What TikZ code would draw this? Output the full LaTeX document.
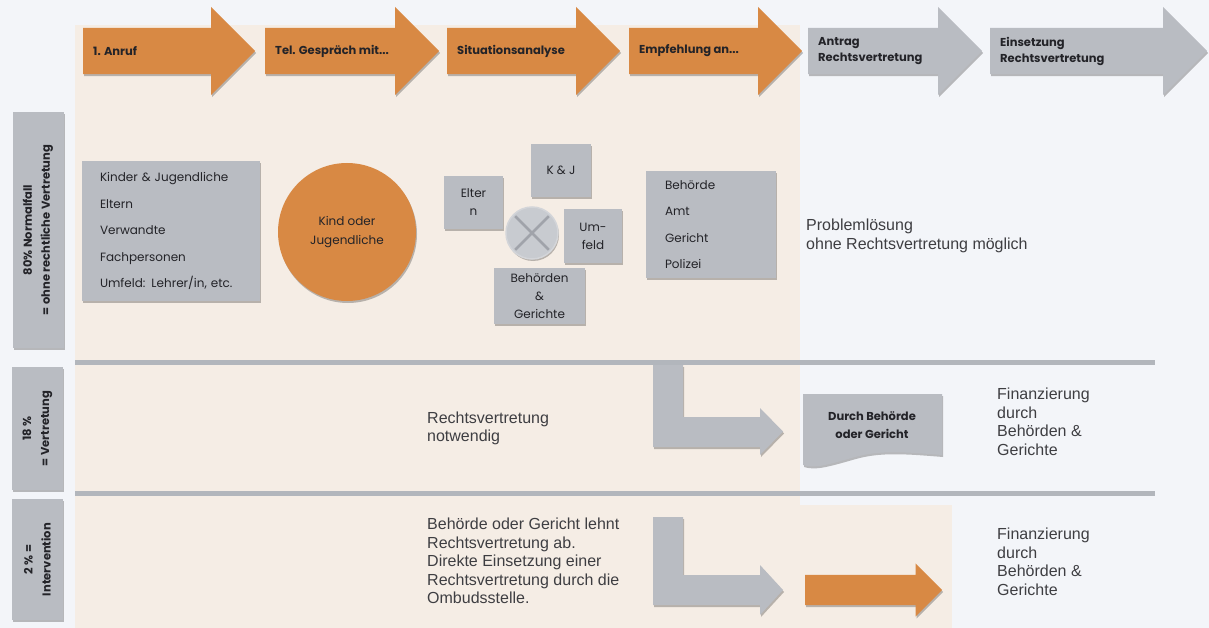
\documentclass[tikz,border=0pt]{standalone}
\usepackage{fontspec}
\setmainfont{Liberation Sans}
\newfontfamily\geofont{Poppins}
\usepackage{tikz}
\usetikzlibrary{shapes.arrows,shadows}
\definecolor{pagebg}{RGB}{243,245,249}
\definecolor{lanebg}{RGB}{245,237,229}
\definecolor{phaseor}{RGB}{216,137,68}
\definecolor{phasegr}{RGB}{185,188,194}
\definecolor{rulegr}{RGB}{178,182,188}
\definecolor{inkdark}{RGB}{35,35,40}
\definecolor{inkgray}{RGB}{62,62,66}
\definecolor{hubfill}{RGB}{200,203,208}
\definecolor{hubline}{RGB}{160,163,170}

\begin{document}
\begin{tikzpicture}[x=1pt, y=-1pt,
  softshadow/.style={drop shadow={shadow xshift=1pt, shadow yshift=-2pt, opacity=0.25, fill=black}},
  phase/.style={single arrow, single arrow head extend=21pt, inner xsep=0pt, inner ysep=23pt, anchor=tail, softshadow},
  phaselbl/.style={anchor=west, align=left, inner sep=0pt, text=inkdark, font=\geofont\bfseries\fontsize{11.5}{16}\selectfont},
  lanebox/.style={fill=phasegr, rotate=90, minimum height=51pt, align=center, inner sep=2pt, text=inkdark, softshadow, font=\geofont\bfseries\fontsize{11.5}{18}\selectfont},
  listbox/.style={fill=phasegr, align=left, softshadow, text=inkdark, font=\geofont\fontsize{12}{26.5}\selectfont},
  smallbox/.style={fill=phasegr, align=center, softshadow, text=inkdark, font=\geofont\fontsize{12}{18}\selectfont},
  note/.style={anchor=west, align=left, inner sep=0pt, text=inkgray, font=\fontsize{16}{18.5}\selectfont},
  divider/.style={draw=rulegr, line width=5pt}]
  % page, lanes and rules
  \fill[pagebg] (0,0) rectangle (1209,628);
  \useasboundingbox (0,0) rectangle (1209,628);
  \fill[lanebg] (75,25) rectangle (800,628);
  \fill[lanebg] (800,505) rectangle (952,628);
  \draw[divider] (75,362) -- (1155,362);
  \draw[divider] (75,493) -- (1155,493);

  % process steps
  \node[phase, fill=phaseor, minimum height=172pt] (anruf) at (83,51) {};
  \node[phase, fill=phaseor, minimum height=174pt] (gespraech) at (265,51) {};
  \node[phase, fill=phaseor, minimum height=173pt] (analyse) at (447,51) {};
  \node[phase, fill=phaseor, minimum height=173pt] (empf) at (629,51) {};
  \node[phase, fill=phasegr, minimum height=174pt] (antrag) at (808,51) {};
  \node[phase, fill=phasegr, minimum height=217pt] (einsetz) at (990,51) {};
  \node[phaselbl] at ([xshift=10pt]anruf.tail) {1. Anruf};
  \node[phaselbl] at ([xshift=10pt]gespraech.tail) {Tel. Gespräch mit...};
  \node[phaselbl] at ([xshift=10pt]analyse.tail) {Situationsanalyse};
  \node[phaselbl] at ([xshift=10pt]empf.tail) {Empfehlung an...};
  \node[phaselbl] at ([xshift=10pt]antrag.tail) {Antrag\\Rechtsvertretung};
  \node[phaselbl] at ([xshift=10pt]einsetz.tail) {Einsetzung\\Rechtsvertretung};

  % lane headers
  \node[lanebox, minimum width=236pt] (normal) at (38,230) {80\% Normalfall\\= ohne rechtliche Vertretung};
  \node[lanebox, minimum width=123pt] (vertr) at (37.5,428.5) {18 \%\\= Vertretung};
  \node[lanebox, minimum width=121pt] (interv) at (37.5,559.5) {2 \% =\\Intervention};

  % lane 1: who calls, who is talked to
  \node[listbox, minimum width=178pt, minimum height=140pt, text width=142pt] (anrufer) at (171,231)
    {Kinder \& Jugendliche\\Eltern\\Verwandte\\Fachpersonen\\Umfeld: Lehrer/in, etc.};
  \node[circle, fill=phaseor, minimum size=138pt, align=center, softshadow, text=inkdark,
    font=\geofont\fontsize{12}{19}\selectfont] (kind) at (347,232) {Kind oder\\Jugendliche};
  \node[circle, fill=hubfill, draw=hubfill!80!white, line width=1.5pt, minimum size=52pt, softshadow] (hub) at (532,233) {};
  \draw[hubline, line width=2.5pt, shorten >=3pt, shorten <=3pt] (hub.north west) -- (hub.south east);
  \draw[hubline, line width=2.5pt, shorten >=3pt, shorten <=3pt] (hub.north east) -- (hub.south west);
  \node[smallbox, minimum width=60pt, minimum height=53pt] (kj) at (561,170.5) {K \& J};
  \node[smallbox, minimum width=59pt, minimum height=53pt] (eltern) at (473.5,202.5) {Elter\\n};
  \node[smallbox, minimum width=58pt, minimum height=54pt] (umfeld) at (593,236) {Um-\\feld};
  \node[smallbox, minimum width=91pt, minimum height=56pt] (gerichte) at (539.5,296) {Behörden\\\&\\Gerichte};
  \node[listbox, minimum width=130pt, minimum height=107pt, text width=92pt] (stellen) at (711,224.5)
    {Behörde\\Amt\\Gericht\\Polizei};
  \node[note] (loesung) at (806,236) {Problemlösung\\ohne Rechtsvertretung möglich};

  % lane 2
  \node[note] (noetig) at (427,428.5) {Rechtsvertretung\\notwendig};
  \path[fill=phasegr, softshadow] (653,365) -- (683,365) -- (683,417) -- (760,417) -- (760,408)
    -- (783,431.5) -- (760,455) -- (760,447) -- (653,447) -- cycle;
  \path[fill=phasegr, softshadow] (803,394) -- (942,394) -- (942,455)
    .. controls (905,452) and (880,450) .. (855,457) .. controls (830,464) and (815,469) .. (803,465) -- cycle;
  \node[text=inkdark, align=center, font=\geofont\bfseries\fontsize{11.5}{18}\selectfont] (durch) at (872,425) {Durch Behörde\\oder Gericht};
  \node[note] (finanz) at (997,422) {Finanzierung\\durch\\Behörden \&\\Gerichte};

  % lane 3
  \node[note] (direkt) at (427,561) {Behörde oder Gericht lehnt\\Rechtsvertretung ab.\\Direkte Einsetzung einer\\Rechtsvertretung durch die\\Ombudsstelle.};
  \path[fill=phasegr, softshadow] (653,517) -- (683,517) -- (683,575) -- (760,575) -- (760,565)
    -- (783,590) -- (760,615) -- (760,605) -- (653,605) -- cycle;
  \node[single arrow, single arrow head extend=11.5pt, inner xsep=0pt, inner ysep=15pt, minimum height=137pt,
    anchor=tail, fill=phaseor, softshadow] (ombuds) at (805,590) {};
  \node[note] (finanzb) at (997,562) {Finanzierung\\durch\\Behörden \&\\Gerichte};
\end{tikzpicture}
\end{document}
